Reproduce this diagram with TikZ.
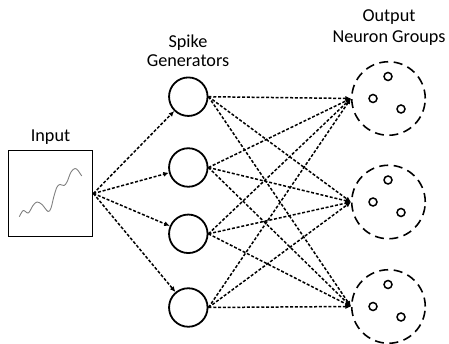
\documentclass[tikz,border=0pt]{standalone}
\usepackage{fontspec}
\setmainfont{Carlito}
\usetikzlibrary{arrows.meta}
\begin{document}
\begin{tikzpicture}[x=1pt,y=-1pt,
  lbl/.style={font=\fontsize{18.2}{21}\selectfont, inner sep=0, anchor=base},
  gen/.style={circle, draw, line width=1.8pt, minimum size=38.5pt, inner sep=0},
  grp/.style={circle, draw, line width=1.6pt, dash pattern=on 9pt off 5.5pt, minimum size=73.5pt, inner sep=0},
  neu/.style={circle, draw, line width=1.5pt, minimum size=8pt, inner sep=0},
  inbox/.style={draw, line width=1.8pt, minimum width=84pt, minimum height=86pt, inner sep=0},
  conn/.style={line width=1.5pt, dash pattern=on 3pt off 1.8pt, -{Latex[length=5.5pt,width=5pt]}},
  wave/.style={draw=gray, line width=0.9pt},
]
\useasboundingbox (0,0) rectangle (449,344);

% labels
\node[lbl] (tin) at (50.5,141.5) {Input};
\node[lbl] (tsp1) at (188,48) {Spike};
\node[lbl] (tsp2) at (188,67) {Generators};
\node[lbl] (tout1) at (389,22) {Output};
\node[lbl] (tout2) at (389,43) {Neuron Groups};

% input box
\node[inbox] (in) at (50.5,193.5) {};
\draw[wave] plot[smooth, tension=0.55] coordinates {(19.3,216.7) (23.3,210.5) (28.3,213) (33,205.5) (37,202) (42,204.5) (48,211.5) (51,208) (54,196) (57,187) (60,184.5) (64,185.5) (67,182) (71,172) (75,168.5) (78,170.5) (81.7,176)};

% spike generators
\node[gen] (g1) at (188.3,96.7) {};
\node[gen] (g2) at (188.3,167.5) {};
\node[gen] (g3) at (188.3,233.8) {};
\node[gen] (g4) at (188.3,307.5) {};

% output groups
\foreach \i/\y in {1/98.5,2/202,3/306.5}{
  \node[grp] (o\i) at (388.5,\y) {};
  \node[neu] (o\i a) at ([shift={(-0.5,-22)}]o\i) {};
  \node[neu] (o\i b) at ([shift={(-15.5,0)}]o\i) {};
  \node[neu] (o\i c) at ([shift={(12.5,10.5)}]o\i) {};
}

% connectors
\foreach \g in {1,...,4}{
  \draw[conn] (in.east) -- (g\g);
}
\foreach \g in {1,...,4}{
  \foreach \o in {1,2,3}{
    \draw[conn] (g\g.east) -- (o\o.west);
  }
}
\end{tikzpicture}
\end{document}
